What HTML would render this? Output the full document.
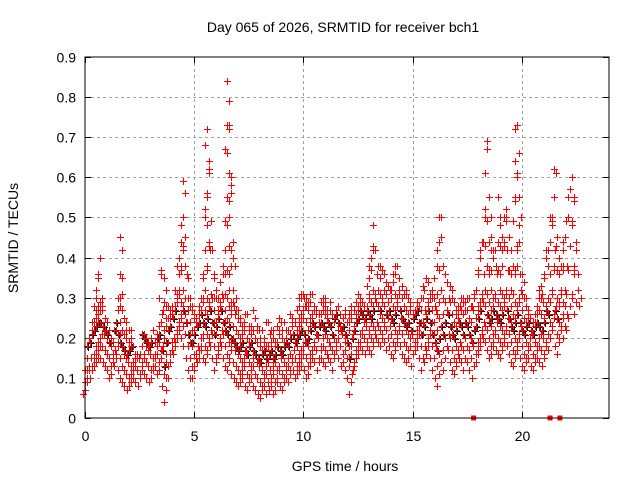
<!DOCTYPE html>
<html><head><meta charset="utf-8"><style>
html,body{margin:0;padding:0;background:#fff;}
svg{display:block;font-family:"Liberation Sans",sans-serif;}
</style></head><body>
<svg id="chart" width="640" height="480" viewBox="0 0 640 480">
<rect x="0" y="0" width="640" height="480" fill="#fff"/>
<text x="343" y="32" font-size="14" text-anchor="middle" fill="#000">Day 065 of 2026, SRMTID for receiver bch1</text>
<text transform="translate(18,238) rotate(-90)" font-size="14" text-anchor="middle" fill="#000">SRMTID / TECUs</text>
<text x="345" y="471" font-size="14" text-anchor="middle" fill="#000">GPS time / hours</text>
<g id="grid"></g>
<g id="ticks"></g>
<g id="marks"></g>
<rect x="85" y="57" width="524" height="361" fill="none" stroke="#000" stroke-width="1"/>
</svg>
<script>
const xTicks=[0,5,10,15,20];
const yTicks=[0,0.1,0.2,0.3,0.4,0.5,0.6,0.7,0.8,0.9];
const yTickLabels=["0","0.1","0.2","0.3","0.4","0.5","0.6","0.7","0.8","0.9"];
const lo=[.06,.07,.09,.10,.12,.13,.14,.15,.15,.14,
.13,.12,.10,.11,.13,.15,.12,.10,.09,.08,
.07,.08,.09,.10,.09,.08,.10,.12,.11,.10,
.09,.10,.12,.13,.11,.12,.08,.04,.10,.13,
.14,.16,.18,.20,.22,.20,.18,.15,.12,.10,
.10,.12,.14,.15,.17,.15,.14,.16,.18,.15,
.12,.14,.16,.18,.15,.13,.12,.14,.11,.10,
.09,.08,.09,.10,.08,.07,.09,.10,.08,.07,
.06,.05,.07,.08,.06,.07,.08,.06,.07,.09,
.08,.07,.09,.10,.09,.11,.12,.10,.11,.12,
.13,.12,.10,.11,.13,.15,.14,.12,.14,.15,
.14,.13,.15,.14,.12,.16,.17,.15,.13,.14,
.12,.10,.06,.11,.13,.15,.16,.18,.17,.16,
.18,.17,.16,.18,.20,.19,.18,.20,.19,.17,
.18,.16,.15,.17,.19,.18,.16,.15,.14,.15,
.13,.16,.17,.18,.15,.12,.14,.16,.18,.15,
.12,.10,.08,.11,.14,.12,.15,.17,.14,.12,
.11,.13,.15,.14,.12,.15,.14,.12,.10,.13,
.14,.16,.18,.20,.19,.17,.15,.16,.18,.17,
.16,.15,.17,.19,.18,.16,.14,.13,.15,.17,
.15,.13,.12,.14,.15,.13,.12,.14,.15,.14,
.13,.15,.18,.17,.20,.22,.18,.16,.20,.22,
.20,.22,.25,.28,.30,.26,.29,.28];
const hi=[.12,.15,.20,.24,.28,.30,.35,.40,.28,.25,
.24,.22,.20,.19,.22,.30,.45,.35,.25,.22,
.22,.20,.18,.16,.15,.16,.18,.21,.20,.19,
.20,.22,.19,.21,.23,.37,.35,.28,.25,.27,
.28,.32,.38,.40,.48,.59,.45,.35,.30,.28,
.26,.25,.28,.30,.35,.52,.72,.64,.42,.35,
.32,.30,.34,.38,.42,.84,.73,.58,.40,.30,
.27,.25,.22,.24,.26,.22,.23,.27,.25,.22,
.20,.22,.19,.18,.24,.22,.20,.19,.23,.25,
.22,.24,.20,.22,.26,.25,.24,.27,.28,.30,
.31,.30,.28,.29,.31,.28,.27,.26,.29,.30,
.28,.27,.29,.26,.25,.27,.28,.26,.25,.27,
.24,.26,.28,.27,.29,.31,.30,.29,.28,.33,
.35,.40,.48,.42,.38,.35,.37,.36,.34,.33,
.32,.34,.36,.38,.35,.33,.31,.32,.30,.28,
.26,.27,.29,.28,.30,.33,.35,.34,.30,.32,
.35,.42,.50,.45,.38,.36,.34,.33,.30,.29,
.26,.28,.30,.29,.27,.30,.25,.28,.30,.32,
.36,.40,.44,.52,.69,.55,.45,.40,.42,.55,
.48,.45,.50,.52,.45,.42,.38,.64,.73,.55,
.36,.34,.30,.26,.25,.24,.26,.28,.30,.33,
.35,.40,.42,.50,.48,.62,.45,.40,.38,.42,
.45,.50,.57,.60,.54,.44,.36,.30];
const gapTimes=[17.8,21.3,21.75];
const timeStep=0.1;

const NS="http://www.w3.org/2000/svg";
const X0=85,X1=609,Y0=418,Y1=57;
function xs(t){return X0+(X1-X0)*t/24;}
function ys(v){return Y0-(Y0-Y1)*v/0.9;}
const grid=document.getElementById('grid'),ticks=document.getElementById('ticks'),marks=document.getElementById('marks');
function mk(tag,attrs,parent){const e=document.createElementNS(NS,tag);for(const k in attrs)e.setAttribute(k,attrs[k]);parent.appendChild(e);return e;}
yTicks.forEach((v,i)=>{
  const y=Math.round(ys(v))+0.5;
  if(i>0&&i<yTicks.length-1){const g=mk('line',{x1:X0,x2:X1,y1:y,y2:y,stroke:'#a0a0a0','stroke-dasharray':'3,3'},grid);
  
  }
  mk('line',{x1:X0,x2:X0+6,y1:y,y2:y,stroke:'#000'},ticks);
  mk('line',{x1:X1-6,x2:X1,y1:y,y2:y,stroke:'#000'},ticks);
  const t=mk('text',{x:X0-9,y:y+5,'font-size':14,'text-anchor':'end'},ticks);
  
  
  t.textContent=yTickLabels[i];
});
xTicks.forEach(v=>{
  const x=Math.round(xs(v))+0.5;
  if(v>0){const g=mk('line',{x1:x,x2:x,y1:Y1,y2:Y0,stroke:'#a0a0a0','stroke-dasharray':'3,3'},grid);
  
  }
  mk('line',{x1:x,x2:x,y1:Y0,y2:Y0-6,stroke:'#000'},ticks);
  mk('line',{x1:x,x2:x,y1:Y1,y2:Y1+6,stroke:'#000'},ticks);
  const t=mk('text',{x:x,y:Y0+23,'font-size':14,'text-anchor':'middle'},ticks);
  
  
  t.textContent=String(v);
});
let dB='',dR='';
function plus(x,y){return `M${x-3.5},${y}h7M${x},${y-3.5}v7`;}
for(let i=0;i<lo.length;i++){
  const t=i*timeStep;
  const x=Math.round(xs(t))+0.5;
  const a=lo[i],b=hi[i];
  let v=a,k=0;
  while(v<=b+1e-9){
    const step=v<0.3?0.03:0.06;
    const xo=x+((k%3)-1)*2;
    const y=Math.round(ys(v))+0.5;
    if(k%7===3&&v<0.28)dB+=plus(xo+1,y+1);
    dR+=plus(xo,y);
    v+=step;k++;
  }
  dR+=plus(x,Math.round(ys(b))+0.5);
}
const pb=mk('path',{d:dB,stroke:'#000',fill:'none','stroke-width':1},marks);


const pr=mk('path',{d:dR,stroke:'#ff0000',fill:'none','stroke-width':1},marks);


gapTimes.forEach(t=>{
  const r=mk('rect',{x:xs(t)-2.5,y:Y0-2.5,width:5,height:5,fill:'#ff0000'},marks);
  
  
});
</script>
</body></html>
